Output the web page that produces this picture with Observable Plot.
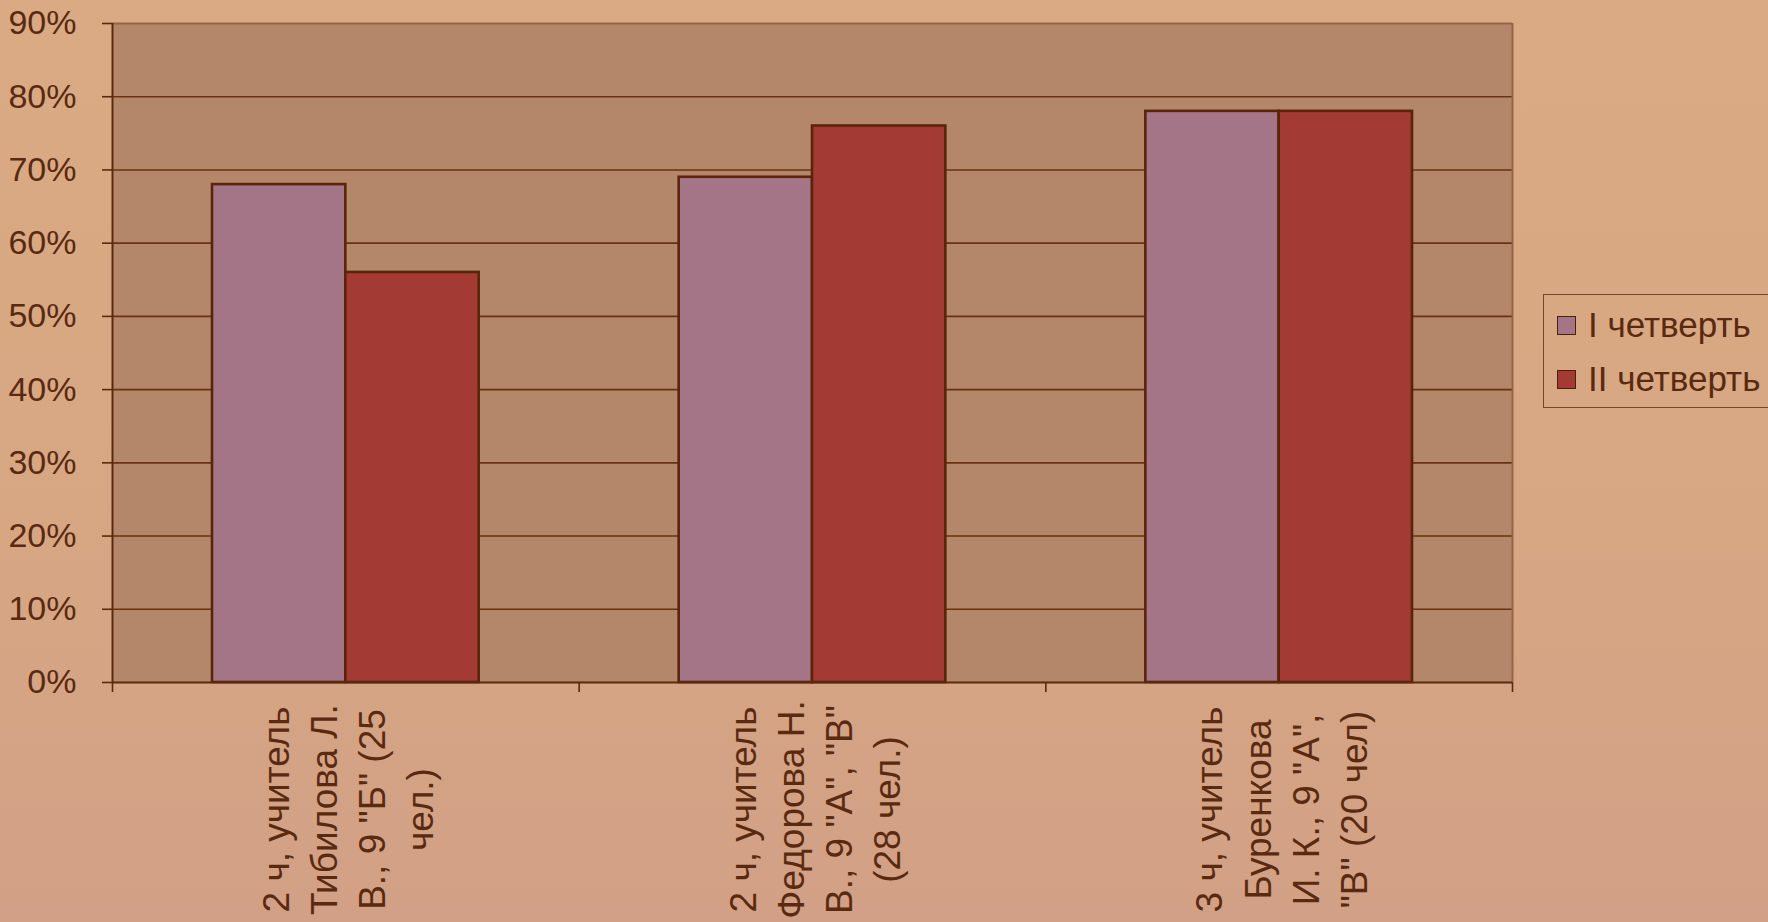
<!DOCTYPE html>
<html>
<head>
<meta charset="utf-8">
<script src="https://cdn.jsdelivr.net/npm/d3@7"></script>
<script src="https://cdn.jsdelivr.net/npm/@observablehq/plot@0.6"></script>
<style>
  html, body { margin: 0; padding: 0; }
  body {
    width: 1768px; height: 922px; overflow: hidden; position: relative;
    background: linear-gradient(180deg, #d9aa83 0%, #d7a783 55%, #d2a086 100%);
    font-family: "Liberation Sans", Arial, sans-serif;
  }
  #chart { position: absolute; left: 0; top: 0; }
  #legend {
    position: absolute; left: 1543px; top: 294px; width: 240px; height: 114px;
    border: 1.5px solid #7a4526; box-sizing: border-box;
    color: #5a2a10; font-size: 35px;
  }
  #legend .item { position: absolute; left: 13px; display: flex; align-items: center; white-space: nowrap; }
  #legend .sw { width: 17px; height: 17px; border: 1.5px solid #4a2008; margin-right: 12px; }
</style>
</head>
<body>
<div id="chart"></div>
<div id="legend"></div>
<script>
// ---- data ----
const categories = [
  "2 ч, учитель\nТибилова Л.\nВ., 9 \"Б\" (25\nчел.)",
  "2 ч, учитель\nФедорова Н.\nВ., 9 \"А\", \"В\"\n(28 чел.)",
  "3 ч, учитель\nБуренкова\nИ. К., 9 \"А\",\n\"В\" (20 чел)"
];
const series = ["I четверть", "II четверть"];
const quarter1 = [0.68, 0.69, 0.78];
const quarter2 = [0.56, 0.76, 0.78];
const yTicks = [0, 0.1, 0.2, 0.3, 0.4, 0.5, 0.6, 0.7, 0.8, 0.9];
const colors = ["#a37587", "#a33a34"];

// ---- table ----
const gapWidth = 1.5; // Excel-style gap width (150%)
const barW = 1 / (series.length + gapWidth);
const rows = [];
categories.forEach((c, i) => {
  [quarter1, quarter2].forEach((vals, j) => {
    const x1 = i + (gapWidth / 2) * barW + j * barW;
    rows.push({cat: c, i, series: series[j], value: vals[i], x1, x2: x1 + barW});
  });
});

const ink = "#5a2a10";
const W = 1768, H = 922;

const chart = Plot.plot({
  width: W, height: H,
  marginLeft: 112, marginRight: 256, marginTop: 23, marginBottom: 240,
  style: {background: "transparent", color: ink, fontFamily: "Liberation Sans, Arial, sans-serif", fontSize: "33px", overflow: "visible"},
  x: {domain: [0, categories.length], axis: null},
  y: {domain: [0, 0.9], axis: null},
  color: {domain: series, range: colors},
  marks: [
    Plot.frame({fill: "#b4866a", stroke: "none"}),
    Plot.ruleY(yTicks.slice(1, -1), {stroke: "#6a3212", strokeWidth: 1.6}),
    Plot.ruleY([0.9], {stroke: "#946443", strokeWidth: 2}),
    Plot.ruleX([categories.length], {stroke: "#946443", strokeWidth: 2}),
    Plot.rectY(rows, {x1: "x1", x2: "x2", y1: 0, y2: "value", fill: "series", stroke: "#5a2408", strokeWidth: 2.6}),
    Plot.ruleY([0], {stroke: "#5a2a10", strokeWidth: 2}),
    Plot.ruleX([0], {stroke: "#5a2a10", strokeWidth: 2}),
    Plot.axisY({ticks: yTicks, tickFormat: d3.format(".0%"), tickSize: 10, tickPadding: 26, stroke: ink, strokeWidth: 1.6, fill: ink, fontSize: 34, label: null}),
    Plot.axisX({ticks: d3.range(categories.length + 1), tickSize: 10, tickFormat: () => "", stroke: ink, strokeWidth: 1.6, label: null}),
    Plot.text(categories, {
      x: (d, i) => i + 0.5, frameAnchor: "bottom", dy: 127,
      text: d => d, rotate: -90, textAnchor: "middle", lineAnchor: "middle",
      lineHeight: 1.3, fontSize: 37, fill: ink
    })
  ]
});
document.getElementById("chart").appendChild(chart);

// ---- legend ----
const legend = document.getElementById("legend");
series.forEach((s, j) => {
  const item = document.createElement("div");
  item.className = "item";
  item.style.top = (10 + j * 54) + "px";
  const sw = document.createElement("span");
  sw.className = "sw";
  sw.style.background = colors[j];
  const t = document.createElement("span");
  t.textContent = s;
  item.appendChild(sw); item.appendChild(t);
  legend.appendChild(item);
});
</script>
</body>
</html>
